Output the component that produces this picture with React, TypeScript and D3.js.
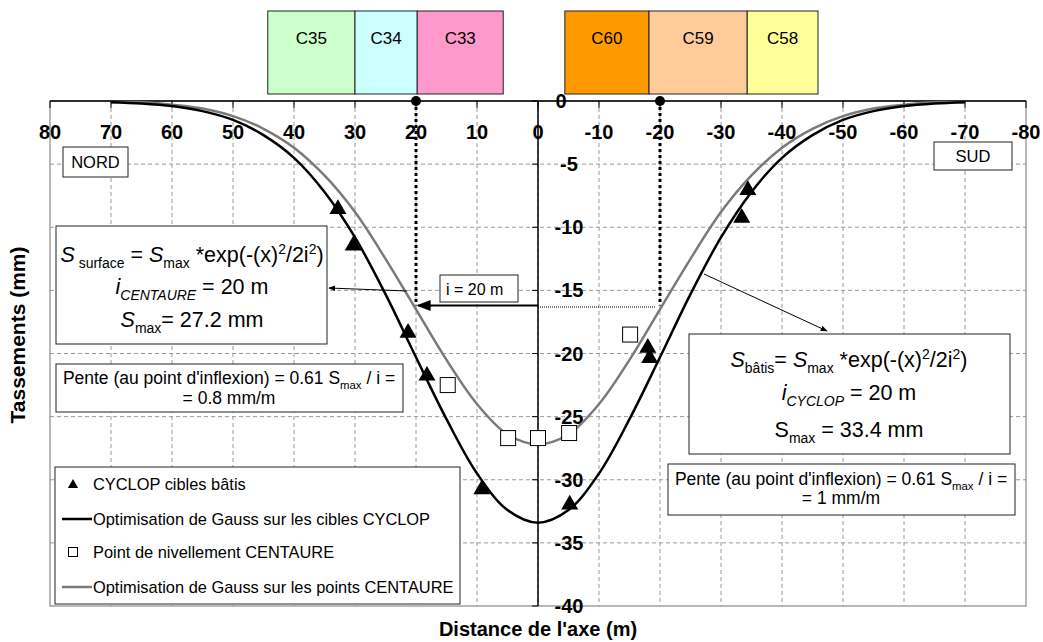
import React from "react";
import * as d3 from "d3";

// axis ticks
const xTicks = [80, 70, 60, 50, 40, 30, 20, 10, 0, -10, -20, -30, -40, -50, -60, -70, -80];
const yTicks = [0, -5, -10, -15, -20, -25, -30, -35, -40];

// CYCLOP building targets (triangles)
const cyclopX = [32.8, 30.3, 21.3, 18.2, 9.2, -5.2, -18.0, -18.3, -33.4, -34.4];
const cyclopY = [-8.4, -11.3, -18.2, -21.6, -30.6, -31.8, -19.4, -20.2, -9.1, -6.9];

// CENTAURE levelling points (squares)
const centaureX = [14.8, 4.9, 0, -5.1, -15.1];
const centaureY = [-22.5, -26.7, -26.7, -26.3, -18.5];

// fitted curves read every 5 m
const curveX = [70, 65, 60, 55, 50, 45, 40, 35, 30, 25, 20, 15, 10, 5, 0, -5, -10, -15, -20, -25, -30, -35, -40, -45, -50, -55, -60, -65, -70];
const cyclopFit = [-0.1, -0.2, -0.4, -0.8, -1.5, -2.7, -4.5, -7.2, -10.8, -15.3, -20.3, -25.2, -29.5, -32.4, -33.4, -32.4, -29.5, -25.2, -20.3, -15.3, -10.8, -7.2, -4.5, -2.7, -1.5, -0.8, -0.4, -0.2, -0.1];
const centaureFit = [-0.1, -0.1, -0.3, -0.6, -1.2, -2.2, -3.7, -5.9, -8.8, -12.5, -16.5, -20.5, -24.0, -26.4, -27.2, -26.4, -24.0, -20.5, -16.5, -12.5, -8.8, -5.9, -3.7, -2.2, -1.2, -0.6, -0.3, -0.1, -0.1];

// ring labels above the chart
const ringNames = ["C35", "C34", "C33", "C60", "C59", "C58"];
const ringFrom = [44.3, 30.0, 19.8, -4.4, -18.2, -34.3];
const ringTo = [30.0, 19.8, 5.7, -18.2, -34.3, -45.9];
const ringColors = ["#ccffcc", "#ccffff", "#ff99cc", "#ff9900", "#ffcc99", "#ffff99"];

const inflexion = 20;
const inflexionY = -16.2;

const FONT = "'Liberation Sans', Arial, Helvetica, sans-serif";

type Seg = { t: string; sub?: boolean; sup?: boolean; it?: boolean };

function Rich({ x, y, segs, size, anchor = "middle" }: { x: number; y: number; segs: Seg[]; size: number; anchor?: string }) {
  let shift = 0;
  return (
    <text x={x} y={y} fontSize={size} textAnchor={anchor} fontFamily={FONT}>
      {segs.map((s, i) => {
        const target = s.sub ? size * 0.28 : s.sup ? -size * 0.38 : 0;
        const dy = target - shift;
        shift = target;
        return (
          <tspan key={i} dy={dy} fontSize={s.sub || s.sup ? size * 0.65 : size} fontStyle={s.it ? "italic" : "normal"}>
            {s.t}
          </tspan>
        );
      })}
    </text>
  );
}

export default function App() {
  const x = d3.scaleLinear().domain([80, -80]).range([50, 1026]);
  const y = d3.scaleLinear().domain([0, -40]).range([101, 606]);

  const line = d3
    .line<number>()
    .x((_, i) => x(curveX[i]))
    .y((d) => y(d))
    .curve(d3.curveCatmullRom);

  const tri = d3.symbol(d3.symbolTriangle, 125)() || "";
  const triSmall = d3.symbol(d3.symbolTriangle, 45)() || "";

  const left = x(80), right = x(-80), top = y(0), bottom = y(-40);

  return (
    <svg width={1043} height={642} style={{ position: "absolute", left: 0, top: 0 }} fontFamily={FONT}>
      <defs>
        <marker id="ah" viewBox="0 0 10 10" refX="9" refY="5" markerWidth="7" markerHeight="7" orient="auto-start-reverse">
          <path d="M0,1 L10,5 L0,9 z" fill="#000" />
        </marker>
      </defs>
      <rect width={1043} height={642} fill="#fff" />

      {/* ring boxes */}
      {ringNames.map((n, i) => (
        <g key={n}>
          <rect x={x(ringFrom[i])} y={11} width={x(ringTo[i]) - x(ringFrom[i])} height={83} fill={ringColors[i]} stroke="#222" strokeWidth={1} />
          <text x={(x(ringFrom[i]) + x(ringTo[i])) / 2} y={44} fontSize={17} textAnchor="middle">{n}</text>
        </g>
      ))}

      {/* grid */}
      {xTicks.slice(1, -1).map((t) => (
        <line key={"gx" + t} x1={x(t)} x2={x(t)} y1={top} y2={bottom} stroke="#9a9a9a" strokeDasharray="4,3" />
      ))}
      {yTicks.slice(1, -1).map((t) => (
        <line key={"gy" + t} x1={left} x2={right} y1={y(t)} y2={y(t)} stroke="#9a9a9a" strokeDasharray="4,3" />
      ))}
      <rect x={left} y={top} width={right - left} height={bottom - top} fill="none" stroke="#8a8a8a" strokeWidth={1.2} />

      {/* axes */}
      <line x1={left} x2={right} y1={top} y2={top} stroke="#000" strokeWidth={1.5} />
      {xTicks.map((t) => (
        <line key={"tx" + t} x1={x(t)} x2={x(t)} y1={top} y2={top + 7} stroke="#000" />
      ))}
      {xTicks.map((t) => (
        <text key={"lx" + t} x={x(t)} y={139} fontSize={20} fontWeight="bold" textAnchor="middle">{t}</text>
      ))}
      <line x1={x(0)} x2={x(0)} y1={top} y2={bottom} stroke="#000" strokeWidth={1.5} />
      {yTicks.map((t) => (
        <line key={"ty" + t} x1={x(0) - 6} x2={x(0)} y1={y(t)} y2={y(t)} stroke="#000" />
      ))}
      {yTicks.map((t) => (
        <text key={"ly" + t} x={t === 0 ? 561 : 569} y={y(t) + 7} fontSize={20} fontWeight="bold" textAnchor="middle">{t}</text>
      ))}

      {/* inflexion markers */}
      {[inflexion, -inflexion].map((v) => (
        <g key={"inf" + v}>
          <line x1={x(v)} x2={x(v)} y1={y(0)} y2={y(inflexionY)} stroke="#000" strokeWidth={3} strokeDasharray="3,3" />
          <circle cx={x(v)} cy={y(0)} r={5} fill="#000" />
        </g>
      ))}
      <line x1={x(0)} x2={x(-inflexion) - 4} y1={y(inflexionY) + 1.5} y2={y(inflexionY) + 1.5} stroke="#000" strokeWidth={1} strokeDasharray="1,1" />
      <line x1={x(0)} x2={x(inflexion) + 2} y1={y(inflexionY)} y2={y(inflexionY)} stroke="#000" strokeWidth={2} markerEnd="url(#ah)" />
      <rect x={440} y={275} width={78} height={27} fill="#fff" stroke="#222" />
      <text x={446} y={295} fontSize={16}>i = 20 m</text>

      {/* curves */}
      <path d={line(centaureFit) || ""} fill="none" stroke="#7a7a7a" strokeWidth={2.5} />
      <path d={line(cyclopFit) || ""} fill="none" stroke="#000" strokeWidth={2.5} />

      {/* points */}
      {centaureX.map((v, i) => (
        <rect key={"sq" + i} x={x(v) - 7.5} y={y(centaureY[i]) - 7.5} width={15} height={15} fill="#fff" stroke="#000" strokeWidth={1} />
      ))}
      {cyclopX.map((v, i) => (
        <path key={"tr" + i} d={tri} transform={`translate(${x(v)},${y(cyclopY[i]) + 2})`} fill="#000" />
      ))}

      {/* annotation arrows */}
      <line x1={407} y1={291} x2={329} y2={288} stroke="#000" strokeWidth={1} markerEnd="url(#ah)" />
      <line x1={704} y1={274} x2={827} y2={331} stroke="#000" strokeWidth={1} markerEnd="url(#ah)" />

      {/* NORD / SUD */}
      <rect x={63} y={147} width={65} height={30} fill="#fff" stroke="#222" />
      <text x={95.5} y={168} fontSize={16.5} textAnchor="middle">NORD</text>
      <rect x={934} y={142} width={78} height={28} fill="#fff" stroke="#222" />
      <text x={973} y={162} fontSize={16.5} textAnchor="middle">SUD</text>

      {/* left formula box */}
      <rect x={56} y={226} width={271} height={118} fill="#fff" stroke="#222" />
      <Rich x={192} y={262} size={21.5} segs={[{ t: "S", it: true }, { t: " surface", sub: true }, { t: " = " }, { t: "S", it: true }, { t: "max", sub: true }, { t: " *exp(-(x)" }, { t: "2", sup: true }, { t: "/2i" }, { t: "2", sup: true }, { t: ")" }]} />
      <Rich x={192} y={294} size={21.5} segs={[{ t: "i", it: true }, { t: "CENTAURE", sub: true, it: true }, { t: " = 20 m" }]} />
      <Rich x={192} y={327} size={21.5} segs={[{ t: "S", it: true }, { t: "max", sub: true }, { t: "= 27.2 mm" }]} />

      <rect x={56} y={364} width={347} height={48} fill="#fff" stroke="#222" />
      <Rich x={229} y={384} size={17.5} segs={[{ t: "Pente (au point d'inflexion) = 0.61 S" }, { t: "max", sub: true }, { t: " / i =" }]} />
      <Rich x={229} y={404} size={17.5} segs={[{ t: "= 0.8 mm/m" }]} />

      {/* right formula box */}
      <rect x={689} y={334} width={321} height={120} fill="#fff" stroke="#222" />
      <Rich x={849} y={367} size={21.5} segs={[{ t: "S", it: true }, { t: "bâtis", sub: true }, { t: "= " }, { t: "S", it: true }, { t: "max", sub: true }, { t: " *exp(-(x)" }, { t: "2", sup: true }, { t: "/2i" }, { t: "2", sup: true }, { t: ")" }]} />
      <Rich x={849} y={400} size={21.5} segs={[{ t: "i", it: true }, { t: "CYCLOP", sub: true, it: true }, { t: " = 20 m" }]} />
      <Rich x={849} y={437} size={21.5} segs={[{ t: "S" }, { t: "max", sub: true }, { t: " = 33.4 mm" }]} />

      <rect x={668} y={464} width={347} height={51} fill="#fff" stroke="#222" />
      <Rich x={841} y={485} size={17.5} segs={[{ t: "Pente (au point d'inflexion) = 0.61 S" }, { t: "max", sub: true }, { t: " / i =" }]} />
      <Rich x={841} y={504} size={17.5} segs={[{ t: "= 1 mm/m" }]} />

      {/* legend */}
      <rect x={55} y={467} width={405} height={137} fill="#fff" stroke="#222" />
      <path d={triSmall} transform="translate(73,485)" fill="#000" />
      <text x={93} y={490} fontSize={16.4}>CYCLOP cibles bâtis</text>
      <line x1={62} x2={92} y1={519} y2={519} stroke="#000" strokeWidth={2.5} />
      <text x={93} y={525} fontSize={16.4}>Optimisation de Gauss sur les cibles CYCLOP</text>
      <rect x={68.5} y={547.5} width={9} height={9} fill="#fff" stroke="#000" />
      <text x={93} y={558} fontSize={16.4}>Point de nivellement CENTAURE</text>
      <line x1={62} x2={92} y1={587} y2={587} stroke="#7a7a7a" strokeWidth={2.5} />
      <text x={93} y={593} fontSize={16.4}>Optimisation de Gauss sur les points CENTAURE</text>

      {/* titles */}
      <text x={x(0)} y={636} fontSize={20} fontWeight="bold" textAnchor="middle">Distance de l'axe (m)</text>
      <text transform={`translate(25,335) rotate(-90)`} fontSize={21} fontWeight="bold" textAnchor="middle">Tassements (mm)</text>
    </svg>
  );
}
